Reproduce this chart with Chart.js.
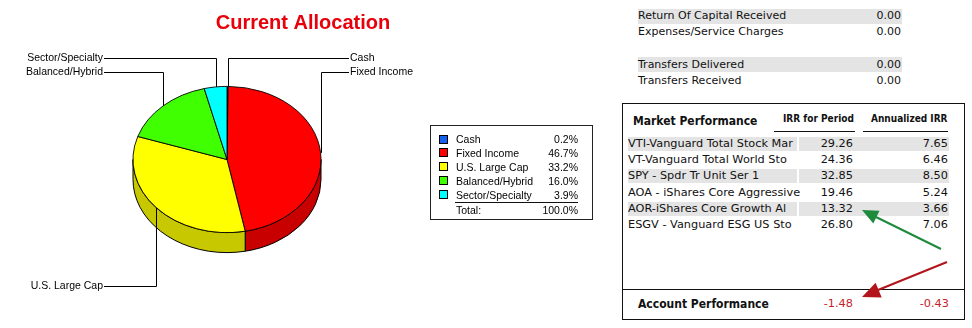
<!DOCTYPE html>
<html>
<head>
<meta charset="utf-8">
<script src="https://cdn.jsdelivr.net/npm/chart.js@4.4.1/dist/chart.umd.min.js"></script>
<style>
  body { margin: 0; width: 972px; height: 328px; background: #fff; position: relative; overflow: hidden; font-family: "DejaVu Sans", sans-serif; color: #111; }
  #pie { position: absolute; left: 0; top: 0; }
  .t { position: absolute; white-space: nowrap; height: 16px; line-height: 16px; }
  .band { position: absolute; background: #e4e4e4; }
  .lg { font-family: "Liberation Sans", Arial, sans-serif; font-size: 10.5px; color: #000; }
  .row { font-size: 11px; }
  .mk { font-size: 11.3px; }
  .hd { font-family: "DejaVu Sans Condensed", "DejaVu Sans", sans-serif; font-weight: bold; font-size: 12px; }
  .sub { font-family: "DejaVu Sans Condensed", "DejaVu Sans", sans-serif; font-weight: bold; font-size: 10px; }
  .neg { color: #c41e2a; }
  #legendBox { position: absolute; left: 430px; top: 125px; width: 163px; height: 95px; box-sizing: border-box; border: 1px solid #222; }
  #marketBox { position: absolute; left: 622px; top: 103px; width: 343px; height: 217px; box-sizing: border-box; border: 1px solid #111; }
  .rule { position: absolute; height: 0; border-top: 1px solid #111; }
  .sw { position: absolute; width: 9px; height: 9px; box-sizing: border-box; border: 1px solid #000; }
  svg { position: absolute; left: 0; top: 0; }
</style>
</head>
<body>
<canvas id="pie" width="620" height="328"></canvas>
<div id="legendBox"></div>
<div id="marketBox"></div>
<div id="panel"></div>
<svg width="972" height="328">
  <line x1="941" y1="249" x2="876" y2="217" stroke="#1e8a3c" stroke-width="2"/>
  <polygon points="862,210 879.5,210.8 873.3,223.4" fill="#1e8a3c"/>
  <line x1="947" y1="262" x2="878" y2="290" stroke="#b3151c" stroke-width="2"/>
  <polygon points="862,297 881.7,297.5 875.6,282.7" fill="#b3151c"/>
</svg>
<script>
// allocation
const categories = ["Cash", "Fixed Income", "U.S. Large Cap", "Balanced/Hybrid", "Sector/Specialty"];
const allocation = [0.2, 46.7, 33.2, 16.0, 3.9];

// cash flow lines
const flowLabels = ["Return Of Capital Received", "Expenses/Service Charges", "Transfers Delivered", "Transfers Received"];
const flowValues = [0.00, 0.00, 0.00, 0.00];

// market performance
const funds = ["VTI-Vanguard Total Stock Mar", "VT-Vanguard Total World Sto", "SPY - Spdr Tr Unit Ser 1",
  "AOA - iShares Core Aggressive", "AOR-iShares Core Growth Al", "ESGV - Vanguard ESG US Sto"];
const irrPeriod = [29.26, 24.36, 32.85, 19.46, 13.32, 26.80];
const irrAnnual = [7.65, 6.46, 8.50, 5.24, 3.66, 7.06];
const accountIrr = [-1.48, -0.43];

const sliceColors = ["#1560f0", "#ff0000", "#ffff00", "#40ff00", "#00ffff"];
const sideColors = ["#0d45b0", "#c80000", "#c8c800", "#30c000", "#00c0c0"];
const SQUASH = 73.5 / 94.5;
const DEPTH = 20;

// where the pie labels sit
const labelSpots = [
  { side: "right", y: 58 }, { side: "right", y: 72 }, { side: "left", y: 286 },
  { side: "left", y: 72 }, { side: "left", y: 58 }
];

const pie3d = {
  id: "pie3d",
  beforeDatasetsDraw(chart) {
    const ctx = chart.ctx;
    const arcs = chart.getDatasetMeta(0).data;
    const cx = arcs[0].x, cy = arcs[0].y;
    const rx = arcs[0].outerRadius, ry = rx * SQUASH;
    ctx.save();
    ctx.lineWidth = 1;
    ctx.strokeStyle = "#000";
    arcs.forEach(function (arc, i) {
      const a = Math.max(arc.startAngle, 0);
      const b = Math.min(arc.endAngle, Math.PI);
      if (a >= b) return;
      ctx.beginPath();
      ctx.ellipse(cx, cy, rx, ry, 0, a, b);
      ctx.lineTo(cx + rx * Math.cos(b), cy + DEPTH + ry * Math.sin(b));
      ctx.ellipse(cx, cy + DEPTH, rx, ry, 0, b, a, true);
      ctx.closePath();
      ctx.fillStyle = sideColors[i];
      ctx.fill();
      ctx.stroke();
    });
    ctx.restore();
    // squash the top face into an ellipse
    ctx.save();
    ctx.translate(cx, cy);
    ctx.scale(1, SQUASH);
    ctx.translate(-cx, -cy);
  },
  afterDatasetsDraw(chart) {
    chart.ctx.restore();
  }
};

const pieLabels = {
  id: "pieLabels",
  afterDraw(chart) {
    const ctx = chart.ctx;
    const arcs = chart.getDatasetMeta(0).data;
    ctx.save();
    ctx.fillStyle = "#e8000b";
    ctx.font = 'bold 20px "Liberation Sans", Arial, sans-serif';
    ctx.textAlign = "center";
    ctx.textBaseline = "alphabetic";
    ctx.fillText("Current Allocation", 303, 29);

    ctx.font = '10.5px "Liberation Sans", Arial, sans-serif';
    ctx.textBaseline = "middle";
    ctx.strokeStyle = "#000";
    ctx.lineWidth = 1;
    ctx.fillStyle = "#000";
    arcs.forEach(function (arc, i) {
      const mid = (arc.startAngle + arc.endAngle) / 2;
      const px = Math.round(arc.x + arc.outerRadius * Math.cos(mid)) + 0.5;
      const py = arc.y + arc.outerRadius * SQUASH * Math.sin(mid);
      const spot = labelSpots[i];
      const ly = spot.y + 0.5;
      const endX = spot.side === "left" ? 104 : 349;
      ctx.beginPath();
      ctx.moveTo(px, py);
      ctx.lineTo(px, ly);
      ctx.lineTo(endX, ly);
      ctx.stroke();
      ctx.textAlign = spot.side === "left" ? "right" : "left";
      ctx.fillText(categories[i], spot.side === "left" ? 103 : 350, ly);
    });
    ctx.restore();
  }
};

new Chart(document.getElementById("pie"), {
  type: "pie",
  data: {
    labels: categories,
    datasets: [{
      data: allocation,
      backgroundColor: sliceColors,
      borderColor: "#000",
      borderWidth: 1,
      clip: false
    }]
  },
  options: {
    responsive: false,
    animation: false,
    devicePixelRatio: 1,
    events: [],
    layout: { padding: { left: 132, right: 298, top: 65, bottom: 74 } },
    plugins: { legend: { display: false }, tooltip: { enabled: false } }
  },
  plugins: [pie3d, pieLabels]
});

// html parts
const panel = document.getElementById("panel");
function addText(text, cls, yMid, left, right) {
  const d = document.createElement("div");
  d.className = "t " + cls;
  d.textContent = text;
  d.style.top = (yMid - 8) + "px";
  if (left != null) d.style.left = left + "px";
  else d.style.right = (972 - right) + "px";
  panel.appendChild(d);
  return d;
}
function addBand(x1, x2, yMid, h) {
  const d = document.createElement("div");
  d.className = "band";
  d.style.left = x1 + "px";
  d.style.width = (x2 - x1) + "px";
  d.style.top = (yMid - h / 2) + "px";
  d.style.height = h + "px";
  panel.appendChild(d);
}
function addRule(x1, x2, y) {
  const d = document.createElement("div");
  d.className = "rule";
  d.style.left = x1 + "px";
  d.style.width = (x2 - x1) + "px";
  d.style.top = y + "px";
  panel.appendChild(d);
}

// legend
categories.forEach(function (name, i) {
  const y = 139 + i * 13.9;
  const sw = document.createElement("div");
  sw.className = "sw";
  sw.style.left = "439px";
  sw.style.top = (y - 4.5) + "px";
  sw.style.background = sliceColors[i];
  panel.appendChild(sw);
  addText(name, "lg", y, 456, null);
  addText(allocation[i].toFixed(1) + "%", "lg", y, null, 578);
});
addRule(455, 578, 202);
const total = allocation.reduce(function (s, v) { return s + v; }, 0);
addText("Total:", "lg", 210, 456, null);
addText(total.toFixed(1) + "%", "lg", 210, null, 578);

// cash flow rows
const flowRowY = [16, 32.3, 64.6, 80.8];
flowLabels.forEach(function (name, i) {
  if (i % 2 === 0) addBand(638, 902, flowRowY[i], 15);
  addText(name, "row", flowRowY[i], 638, null);
  addText(flowValues[i].toFixed(2), "row", flowRowY[i], null, 901);
});

// market performance
addText("Market Performance", "hd", 121, 633, null);
addText("IRR for Period", "sub", 119, 783, null);
addText("Annualized IRR", "sub", 119, 871, null);
addRule(774, 855, 131);
addRule(863, 948, 131);
funds.forEach(function (name, i) {
  const y = 144 + i * 16.2;
  if (i % 2 === 0) {
    addBand(628, 797, y, 14);
    addBand(799, 949, y, 14);
  }
  addText(name, "mk", y, 628, null);
  addText(irrPeriod[i].toFixed(2), "mk", y, null, 853);
  addText(irrAnnual[i].toFixed(2), "mk", y, null, 948);
});
addRule(622, 965, 289);
addText("Account Performance", "hd", 304, 638, null);
addText(accountIrr[0].toFixed(2), "mk neg", 304, null, 853);
addText(accountIrr[1].toFixed(2), "mk neg", 304, null, 949);
</script>
</body>
</html>
